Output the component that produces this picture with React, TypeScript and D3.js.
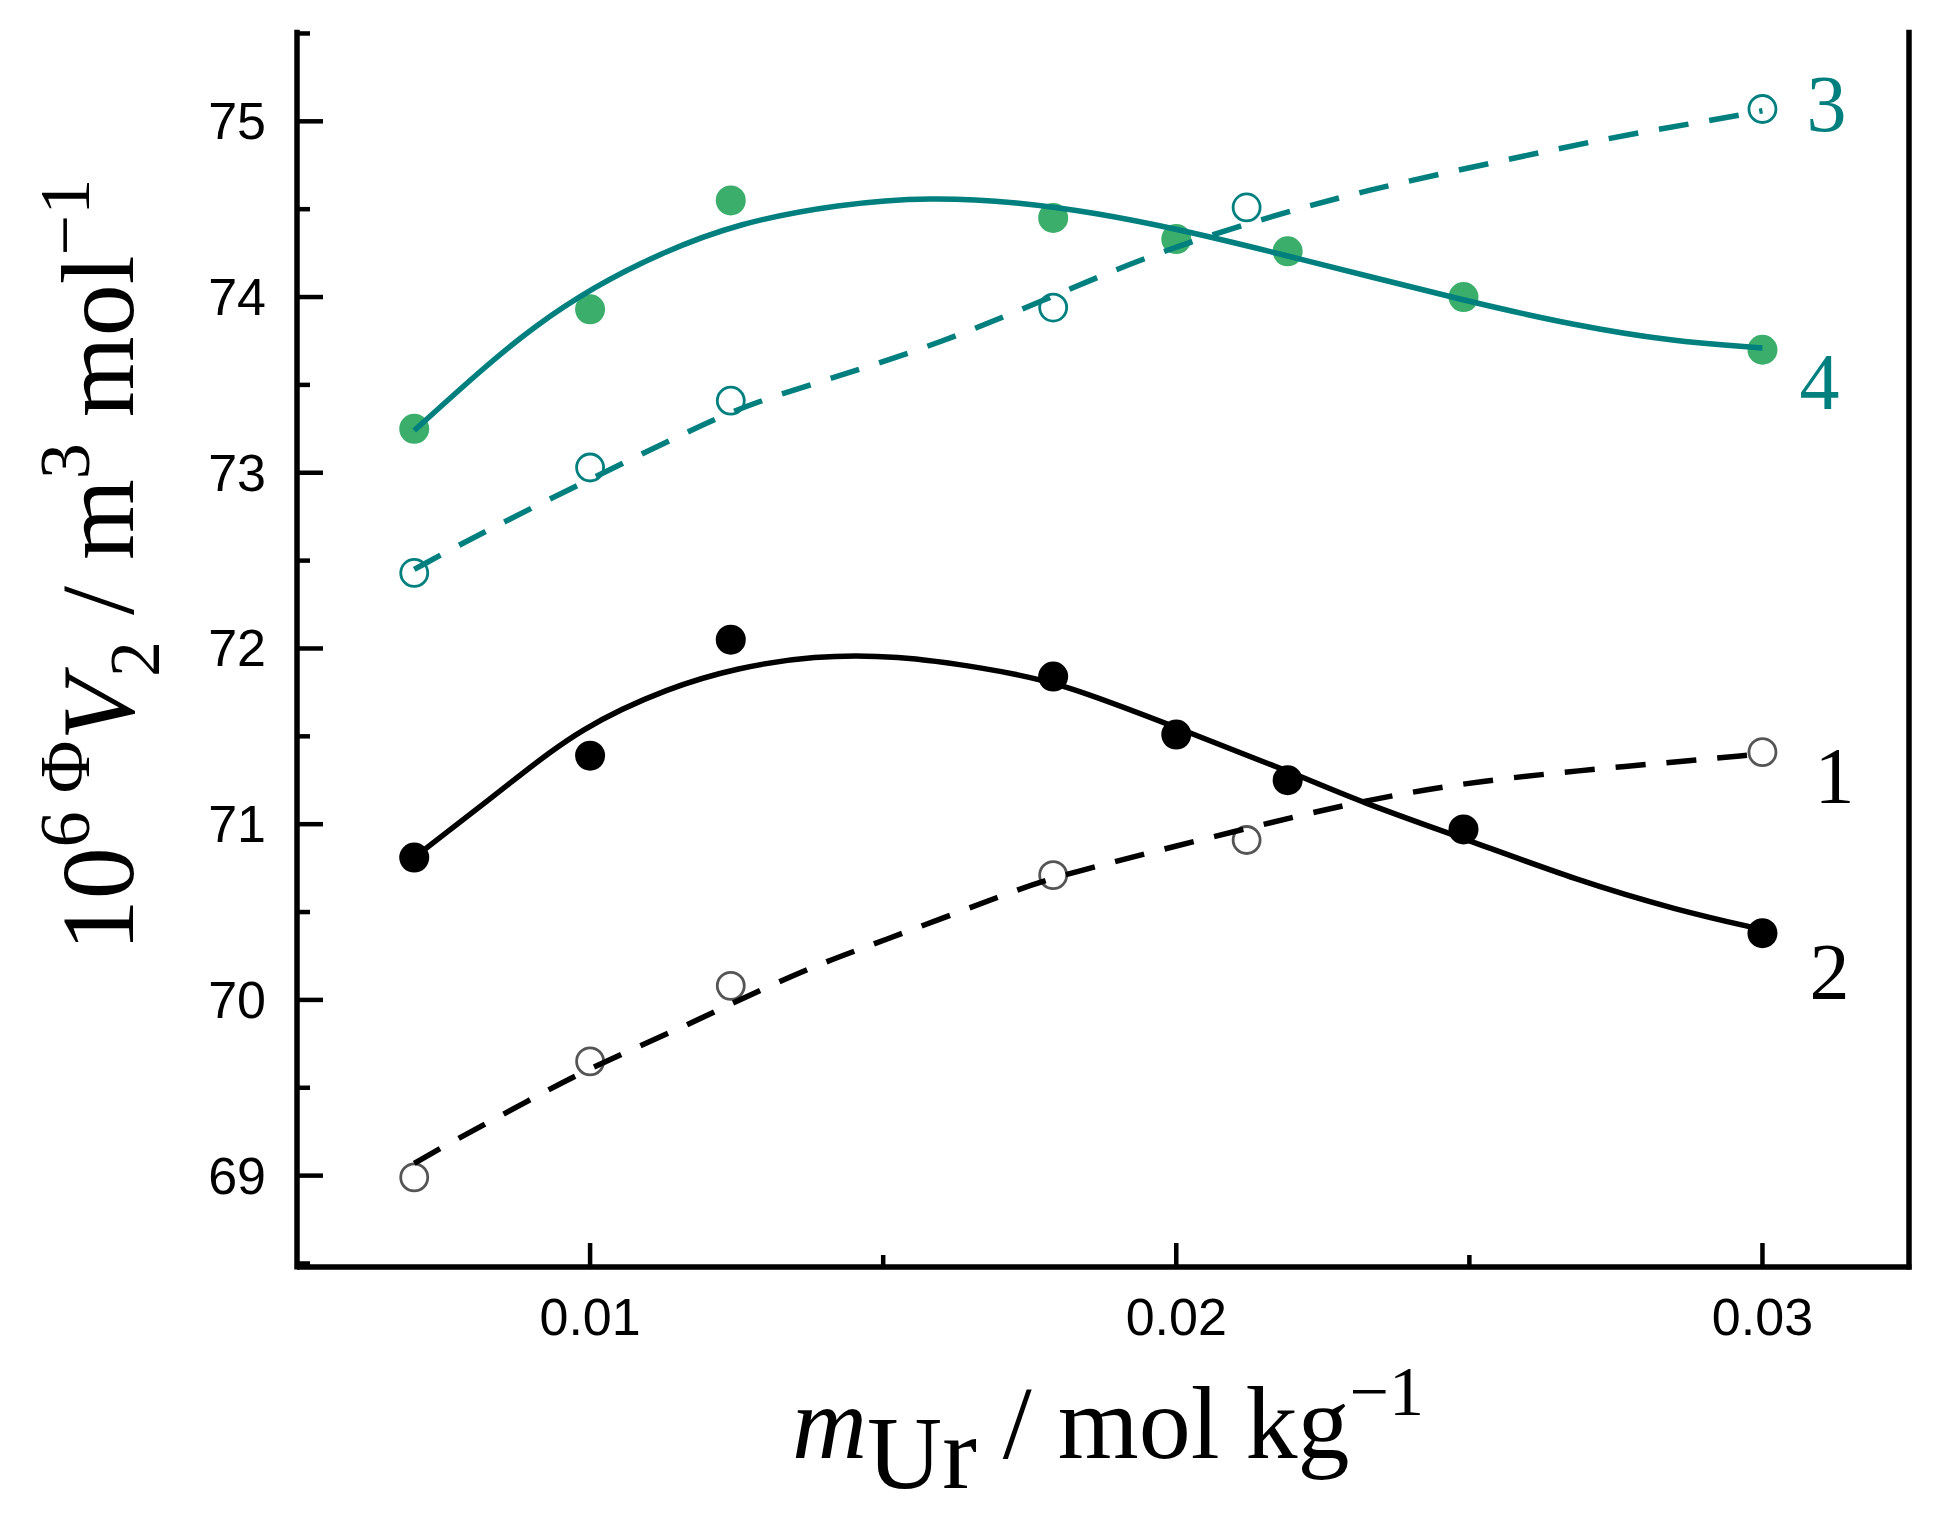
import React from 'react';
import * as d3 from 'd3';

// molality of urea, mol/kg
const openX = [0.007, 0.01, 0.0124, 0.0179, 0.0212, 0.03];
const filledX = [0.007, 0.01, 0.0124, 0.0179, 0.02, 0.0219, 0.0249, 0.03];

// apparent molar volume, 10^6 m3/mol
const series1 = [68.99, 69.65, 70.08, 70.71, 70.91, 71.41];
const series2 = [70.81, 71.39, 72.05, 71.84, 71.51, 71.25, 70.97, 70.38];
const series3 = [72.43, 73.03, 73.41, 73.94, 74.51, 75.07];
const series4 = [73.25, 73.93, 74.55, 74.45, 74.33, 74.26, 74.0, 73.7];

// fitted curves
const fit1: [number, number][] = [
  [0.007, 69.07], [0.00763, 69.19], [0.00897, 69.43], [0.00991, 69.6], [0.01175, 69.87],
  [0.01266, 70.02], [0.01402, 70.22], [0.01479, 70.31], [0.01723, 70.62], [0.0179, 70.7],
  [0.02124, 70.98], [0.02311, 71.13], [0.02515, 71.25], [0.02769, 71.33], [0.03, 71.4],
];
const fit2: [number, number][] = [
  [0.007, 70.81], [0.0087, 71.25], [0.00984, 71.55], [0.01136, 71.78], [0.01251, 71.89],
  [0.0138, 71.96], [0.01525, 71.96], [0.0167, 71.89], [0.018, 71.81], [0.02, 71.55],
  [0.02201, 71.29], [0.02311, 71.13], [0.02498, 70.91], [0.02684, 70.68], [0.02855, 70.51],
  [0.03, 70.4],
];
const fit3: [number, number][] = [
  [0.007, 72.45], [0.00816, 72.66], [0.00998, 72.96], [0.01164, 73.23], [0.01268, 73.39],
  [0.01425, 73.55], [0.01599, 73.74], [0.01773, 73.98], [0.01947, 74.23], [0.0214, 74.44],
  [0.02325, 74.61], [0.02534, 74.76], [0.02743, 74.91], [0.02921, 75.01], [0.03, 75.06],
];
const fit4: [number, number][] = [
  [0.007, 73.24], [0.00816, 73.59], [0.00903, 73.83], [0.01007, 74.06], [0.0112, 74.25],
  [0.01251, 74.42], [0.01425, 74.53], [0.01582, 74.57], [0.0173, 74.54], [0.0186, 74.48],
  [0.01999, 74.39], [0.02197, 74.23], [0.02502, 73.97], [0.02679, 73.84], [0.0284, 73.75],
  [0.03, 73.71],
];

const xMajor = [0.01, 0.02, 0.03];
const xMinor = [0.015, 0.025];
const yMajor = [69, 70, 71, 72, 73, 74, 75];
const yMinor = [68.5, 69.5, 70.5, 71.5, 72.5, 73.5, 74.5, 75.5];

const TEAL = '#007f7f';
const GREEN = '#3aae6a';

const W = 1950;
const H = 1522;
const left = 297;
const right = 1909;
const top = 31.7;
const bottom = 1267;

export default function App() {
  const x = d3.scaleLinear().domain([0.005, 0.0325]).range([left, right]);
  const y = d3.scaleLinear().domain([68.48, 75.51]).range([bottom, top]);

  const line = d3
    .line<[number, number]>()
    .x((d) => x(d[0]))
    .y((d) => y(d[1]))
    .curve(d3.curveBasis);

  const curves = [
    { d: fit1, color: '#000', dash: '30 21' },
    { d: fit2, color: '#000', dash: null },
    { d: fit3, color: TEAL, dash: '30 21' },
    { d: fit4, color: TEAL, dash: null },
  ];

  const labels = [
    { text: '1', v: series1[series1.length - 1], color: '#000', dx: 72, dy: 51 },
    { text: '2', v: series2[series2.length - 1], color: '#000', dx: 67, dy: 66 },
    { text: '3', v: series3[series3.length - 1], color: TEAL, dx: 64, dy: 22 },
    { text: '4', v: series4[series4.length - 1], color: TEAL, dx: 57, dy: 59 },
  ];

  const serif = '"Liberation Serif", "Times New Roman", serif';
  const sans = '"Liberation Sans", Arial, sans-serif';

  return (
    <div style={{ position: 'absolute', left: 0, top: 0 }}>
      <svg width={W} height={H} style={{ display: 'block', background: '#fff' }}>
        {/* axes */}
        <g stroke="#000" strokeWidth={5.5} fill="none">
          <line x1={left} y1={top - 2} x2={left} y2={bottom + 2.5} />
          <line x1={left} y1={bottom} x2={right + 2.5} y2={bottom} />
          <line x1={right} y1={top - 2} x2={right} y2={bottom + 2.5} />
        </g>
        <g stroke="#000" strokeWidth={4.5}>
          {yMajor.map((v) => (
            <line key={'ym' + v} x1={left} x2={left + 26} y1={y(v)} y2={y(v)} />
          ))}
          {yMinor.map((v) => (
            <line key={'yn' + v} x1={left} x2={left + 13} y1={y(v)} y2={y(v)} />
          ))}
          {xMajor.map((v) => (
            <line key={'xm' + v} x1={x(v)} x2={x(v)} y1={bottom} y2={bottom - 24} />
          ))}
          {xMinor.map((v) => (
            <line key={'xn' + v} x1={x(v)} x2={x(v)} y1={bottom} y2={bottom - 12} />
          ))}
        </g>
        <g fontFamily={sans} fontSize={52} fill="#000">
          {yMajor.map((v) => (
            <text key={'yl' + v} x={left - 31} y={y(v) + 18} textAnchor="end">
              {v}
            </text>
          ))}
          {xMajor.map((v) => (
            <text key={'xl' + v} x={x(v)} y={bottom + 68} textAnchor="middle">
              {v}
            </text>
          ))}
        </g>

        {/* markers */}
        {filledX.map((v, i) => (
          <circle key={'f2' + i} cx={x(v)} cy={y(series2[i])} r={15} fill="#000" />
        ))}
        {filledX.map((v, i) => (
          <circle key={'f4' + i} cx={x(v)} cy={y(series4[i])} r={15} fill={GREEN} />
        ))}
        {openX.map((v, i) => (
          <circle key={'o1' + i} cx={x(v)} cy={y(series1[i])} r={13.5} fill="none" stroke="#555" strokeWidth={2.8} />
        ))}
        {openX.map((v, i) => (
          <circle key={'o3' + i} cx={x(v)} cy={y(series3[i])} r={13.5} fill="none" stroke={TEAL} strokeWidth={2.8} />
        ))}

        {/* fitted curves */}
        {curves.map((c, i) => (
          <path
            key={'c' + i}
            d={line(c.d) || ''}
            fill="none"
            stroke={c.color}
            strokeWidth={5.5}
            strokeDasharray={c.dash || undefined}
          />
        ))}

        {/* curve numbers */}
        {labels.map((l) => (
          <text
            key={'lab' + l.text}
            x={x(0.03) + l.dx}
            y={y(l.v) + l.dy}
            textAnchor="middle"
            fontFamily={serif}
            fontSize={80}
            fill={l.color}
          >
            {l.text}
          </text>
        ))}

        {/* x axis title */}
        <text x={1108} y={1458} textAnchor="middle" fontFamily={serif} fontSize={104} fill="#000">
          <tspan fontStyle="italic">m</tspan>
          <tspan dy={30}>Ur</tspan>
          <tspan dy={-30}> / mol kg</tspan>
          <tspan dy={-43} fontSize={70}>−1</tspan>
        </text>

        {/* y axis title */}
        <text
          transform={`translate(133, 565) rotate(-90)`}
          textAnchor="middle"
          fontFamily={serif}
          fontSize={104}
          fill="#000"
        >
          <tspan>10</tspan>
          <tspan dy={-44} fontSize={72}>6</tspan>
          <tspan fontSize={72}> Φ</tspan>
          <tspan dy={44} fontStyle="italic">V</tspan>
          <tspan dy={26} fontSize={72}>2</tspan>
          <tspan dy={-26}> / m</tspan>
          <tspan dy={-44} fontSize={72}>3</tspan>
          <tspan dy={44}> mol</tspan>
          <tspan dy={-44} fontSize={72}>−1</tspan>
        </text>
      </svg>
    </div>
  );
}
